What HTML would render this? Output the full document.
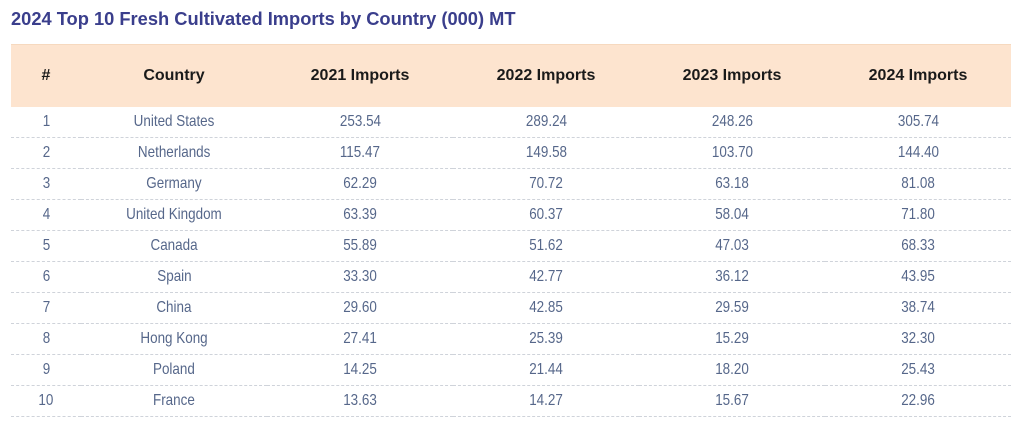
<!DOCTYPE html>
<html><head><style>
body{margin:0;width:1024px;height:432px;background:#fff;font-family:"Liberation Sans",sans-serif;overflow:hidden;position:relative}
.t{position:absolute;left:11px;top:8px;font-size:18.3px;font-weight:bold;color:#3a3e8c;white-space:nowrap}
table{position:absolute;left:11px;top:44px;border-collapse:collapse;width:1000px;table-layout:fixed}
th{background:#fde4cf;height:62px;font-weight:bold;font-size:16px;color:#1a1a1a;text-align:center;padding:0;border-top:1px solid #f6d9bf}
td{height:30px;border-bottom:1px dashed #cfd3da;text-align:center;font-size:16px;color:#56678a;padding:0}
td span{display:inline-block;transform:scaleX(0.84)}
</style></head><body>
<div class="t">2024 Top 10 Fresh Cultivated Imports by Country (000) MT</div>
<table>
<colgroup><col style="width:70px"><col style="width:186px"><col style="width:186px"><col style="width:186px"><col style="width:186px"><col style="width:186px"></colgroup>
<tr><th>#</th><th>Country</th><th>2021 Imports</th><th>2022 Imports</th><th>2023 Imports</th><th>2024 Imports</th></tr>
<tr><td><span>1</span></td><td><span>United States</span></td><td><span>253.54</span></td><td><span>289.24</span></td><td><span>248.26</span></td><td><span>305.74</span></td></tr>
<tr><td><span>2</span></td><td><span>Netherlands</span></td><td><span>115.47</span></td><td><span>149.58</span></td><td><span>103.70</span></td><td><span>144.40</span></td></tr>
<tr><td><span>3</span></td><td><span>Germany</span></td><td><span>62.29</span></td><td><span>70.72</span></td><td><span>63.18</span></td><td><span>81.08</span></td></tr>
<tr><td><span>4</span></td><td><span>United Kingdom</span></td><td><span>63.39</span></td><td><span>60.37</span></td><td><span>58.04</span></td><td><span>71.80</span></td></tr>
<tr><td><span>5</span></td><td><span>Canada</span></td><td><span>55.89</span></td><td><span>51.62</span></td><td><span>47.03</span></td><td><span>68.33</span></td></tr>
<tr><td><span>6</span></td><td><span>Spain</span></td><td><span>33.30</span></td><td><span>42.77</span></td><td><span>36.12</span></td><td><span>43.95</span></td></tr>
<tr><td><span>7</span></td><td><span>China</span></td><td><span>29.60</span></td><td><span>42.85</span></td><td><span>29.59</span></td><td><span>38.74</span></td></tr>
<tr><td><span>8</span></td><td><span>Hong Kong</span></td><td><span>27.41</span></td><td><span>25.39</span></td><td><span>15.29</span></td><td><span>32.30</span></td></tr>
<tr><td><span>9</span></td><td><span>Poland</span></td><td><span>14.25</span></td><td><span>21.44</span></td><td><span>18.20</span></td><td><span>25.43</span></td></tr>
<tr><td><span>10</span></td><td><span>France</span></td><td><span>13.63</span></td><td><span>14.27</span></td><td><span>15.67</span></td><td><span>22.96</span></td></tr>
</table>
</body></html>
